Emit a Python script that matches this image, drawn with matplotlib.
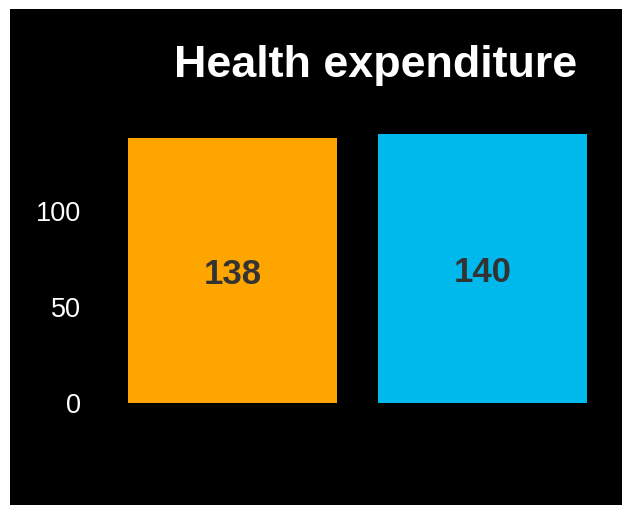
import matplotlib
matplotlib.use('Agg')
import matplotlib.pyplot as plt
from matplotlib.patches import Rectangle

# data
categories = ['A', 'B']
values = [138, 140]
bar_colors = ['#FFA500', '#00B9EC']
yticks = [0, 50, 100]
title = 'Health expenditure'

plt.rcParams['font.family'] = ['Liberation Sans', 'DejaVu Sans']

W, H = 622, 505
fig = plt.figure(figsize=(W / 100, H / 100), dpi=100, facecolor='white')

# black panel with a thin white margin at top and left
fig.add_artist(Rectangle((10 / W, 0), (W - 10) / W, (H - 9) / H,
                         transform=fig.transFigure, facecolor='black',
                         edgecolor='none', zorder=0))

# axes placed in pixels: left 95, right 610, bottom y=403, top y=110
ax_left, ax_right, ax_bot, ax_top = 95, 610, 403, 110
ax = fig.add_axes([ax_left / W, (H - ax_bot) / H,
                   (ax_right - ax_left) / W, (ax_bot - ax_top) / H])
ax.set_facecolor('none')

x = list(range(len(categories)))
bars = ax.bar(x, values, width=0.836, color=bar_colors)

ax.set_xlim(-0.55, 1.51)
ax.set_ylim(0, 152.6)
ax.set_yticks(yticks)
ax.set_yticklabels([str(t) for t in yticks], fontsize=19.5, color='white')
ax.tick_params(axis='y', length=0, pad=10)
ax.set_xticks([])
for s in ax.spines.values():
    s.set_visible(False)

for b, v in zip(bars, values):
    ax.text(b.get_x() + b.get_width() / 2, v / 2, str(v), ha='center',
            va='center_baseline', fontsize=25, fontweight='bold',
            color='#333333')

fig.text(376 / W, (H - 65) / H, title, ha='center', va='center',
         fontsize=32.3, fontweight='bold', color='white')

fig.savefig('out.png', dpi=100, facecolor='white')
